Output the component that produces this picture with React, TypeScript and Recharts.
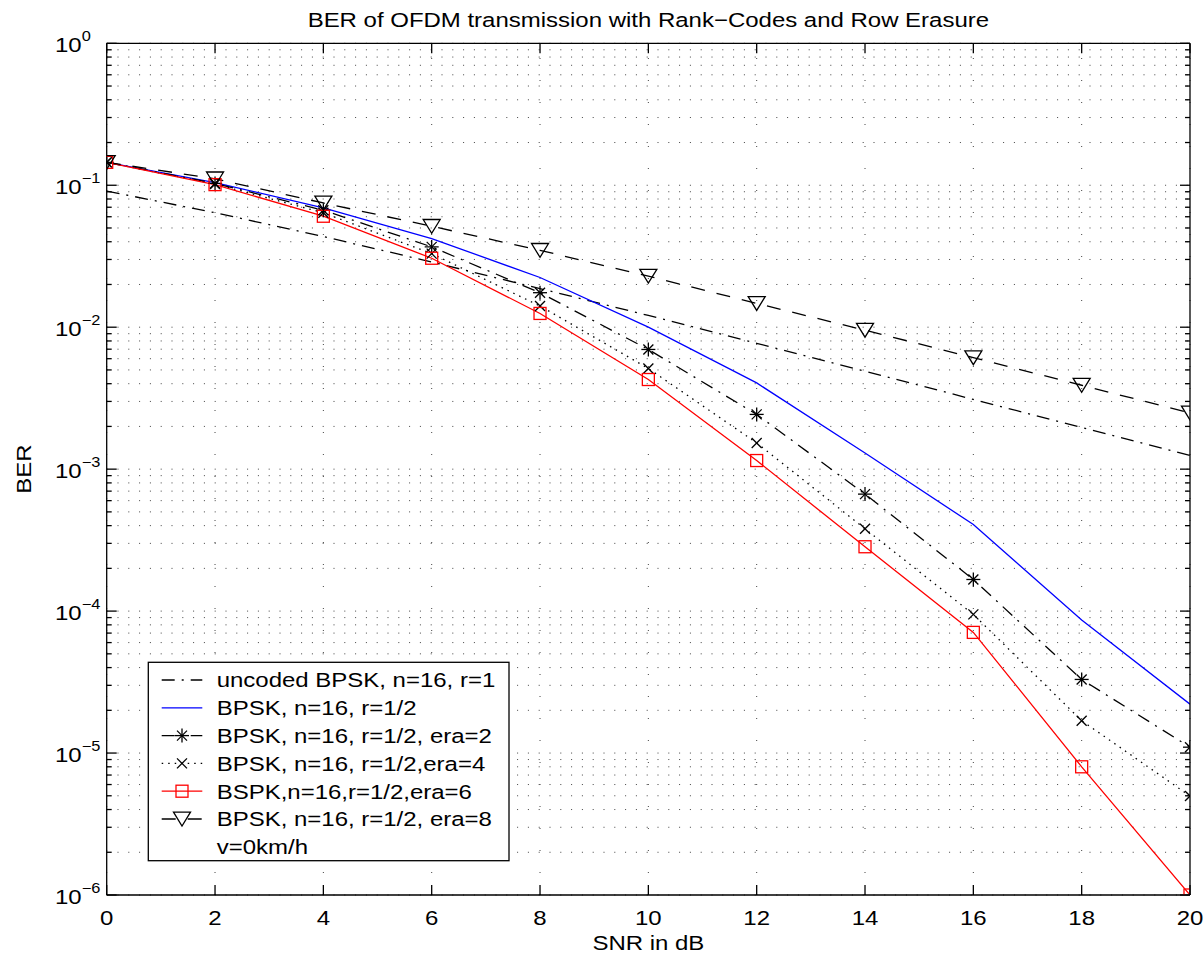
import React from "react";
import { LineChart, Line, XAxis, YAxis, ReferenceLine } from "recharts";

// SNR in dB
const snr = [0, 2, 4, 6, 8, 10, 12, 14, 16, 18, 20];

// BER curves
const uncoded = [0.091, 0.064, 0.0435, 0.0288, 0.0187, 0.0121, 0.0077, 0.0049, 0.0031, 0.00197, 0.00125];
const coded = [0.145, 0.1045, 0.0692, 0.0421, 0.0224, 0.01, 0.00405, 0.0013, 0.000407, 0.0000865, 0.0000221];
const era2 = [0.145, 0.103, 0.0667, 0.0368, 0.0175, 0.00697, 0.00243, 0.000667, 0.000167, 0.000033, 0.000011];
const era4 = [0.145, 0.102, 0.064, 0.033, 0.0141, 0.00512, 0.00153, 0.00038, 0.0000948, 0.0000169, 0.00000498];
const era6 = [0.145, 0.101, 0.0605, 0.0306, 0.0125, 0.00428, 0.00115, 0.000284, 0.0000708, 0.000008, 0.000001];
const era8 = [0.145, 0.111, 0.075, 0.0514, 0.0348, 0.0229, 0.0147, 0.00953, 0.0061, 0.0039, 0.00249];

const xTicks = [0, 2, 4, 6, 8, 10, 12, 14, 16, 18, 20];
const decades = [1e-6, 1e-5, 1e-4, 1e-3, 1e-2, 1e-1, 1];
const minorMult = [2, 3, 4, 5, 6, 7, 8, 9];

const legendLabels = [
  "uncoded BPSK, n=16, r=1",
  "BPSK, n=16, r=1/2",
  "BPSK, n=16, r=1/2, era=2",
  "BPSK, n=16, r=1/2,era=4",
  "BSPK,n=16,r=1/2,era=6",
  "BPSK, n=16, r=1/2, era=8",
  "v=0km/h",
];

const yTicks: number[] = [];
decades.forEach((d, i) => {
  yTicks.push(d);
  if (i < decades.length - 1) minorMult.forEach((m) => yTicks.push(+(d * m).toPrecision(3)));
});

const rows = snr.map((s, i) => ({
  snr: s,
  uncoded: uncoded[i],
  coded: coded[i],
  era2: era2[i],
  era4: era4[i],
  era6: era6[i],
  era8: era8[i],
}));

// body margin is zeroed below, so these are page pixels
const W = 1204;
const H = 967;
const LEFT = 106.7;
const TOP = 43.3;
const RIGHT_W = 14;
const BOTTOM_H = 72;
const PLOT_R = W - RIGHT_W;
const PLOT_B = H - BOTTOM_H;

const FONT = '"Liberation Sans", Arial, Helvetica, sans-serif';
const SX = 1.17; // the original's lettering is a bit wide
const FS = 20.5;
const LW = 1.3;

const DASHDOT = "13 7 2 7";
const DOTTED = "1.5 5";
const DASHED = "14 12";

function SText({ x, y, size = FS, anchor = "start", rotate, children }: any) {
  const t = `translate(${x},${y})${rotate ? ` rotate(${rotate})` : ""} scale(${SX},1)`;
  return (
    <text transform={t} fontSize={size} textAnchor={anchor} fontFamily={FONT} fill="#000">
      {children}
    </text>
  );
}

function Marker({ kind, cx, cy }: any) {
  if (cx == null || cy == null) return null;
  if (kind === "star") {
    return (
      <g stroke="#000" strokeWidth={LW}>
        <line x1={cx - 7} y1={cy} x2={cx + 7} y2={cy} />
        <line x1={cx} y1={cy - 7} x2={cx} y2={cy + 7} />
        <line x1={cx - 5} y1={cy - 5} x2={cx + 5} y2={cy + 5} />
        <line x1={cx - 5} y1={cy + 5} x2={cx + 5} y2={cy - 5} />
      </g>
    );
  }
  if (kind === "x") {
    return (
      <g stroke="#000" strokeWidth={LW}>
        <line x1={cx - 5} y1={cy - 5} x2={cx + 5} y2={cy + 5} />
        <line x1={cx - 5} y1={cy + 5} x2={cx + 5} y2={cy - 5} />
      </g>
    );
  }
  if (kind === "square") {
    return <rect x={cx - 6} y={cy - 6} width={12} height={12} fill="none" stroke="#ff0000" strokeWidth={LW} />;
  }
  if (kind === "tri") {
    return (
      <polygon
        points={`${cx - 8.5},${cy - 6.8} ${cx + 8.5},${cy - 6.8} ${cx},${cy + 7}`}
        fill="none"
        stroke="#000"
        strokeWidth={LW}
      />
    );
  }
  return null;
}

const dotOf = (kind: string) => (p: any) => <Marker key={`${kind}-${p.index}`} kind={kind} cx={p.cx} cy={p.cy} />;

function BottomTick({ x, y, payload }: any) {
  return (
    <g>
      <line x1={x} y1={y} x2={x} y2={y - 10} stroke="#000" strokeWidth={LW} />
      <SText x={x} y={y + 30} anchor="middle">{payload.value}</SText>
    </g>
  );
}

function TopTick({ x, y }: any) {
  return <line x1={x} y1={y} x2={x} y2={y + 10} stroke="#000" strokeWidth={LW} />;
}

const isDecade = (v: number) => Math.abs(Math.log10(v) - Math.round(Math.log10(v))) < 1e-6;

function LeftTick({ x, y, payload }: any) {
  const major = isDecade(payload.value);
  const e = Math.round(Math.log10(payload.value));
  return (
    <g>
      <line x1={x} y1={y} x2={x + (major ? 10 : 5)} y2={y} stroke="#000" strokeWidth={LW} />
      {major && (
        <>
          <SText x={x - 25} y={y + 9} anchor="end">10</SText>
          <SText x={x - 25} y={y - 2} size={14}>{e === 0 ? "0" : `\u2212${-e}`}</SText>
        </>
      )}
    </g>
  );
}

function RightTick({ x, y, payload }: any) {
  const major = isDecade(payload.value);
  return <line x1={x} y1={y} x2={x - (major ? 10 : 5)} y2={y} stroke="#000" strokeWidth={LW} />;
}

const legendItems = [
  { dash: DASHDOT, color: "#000", marker: "" },
  { dash: undefined, color: "#0000ff", marker: "" },
  { dash: DASHDOT, color: "#000", marker: "star" },
  { dash: DOTTED, color: "#000", marker: "x" },
  { dash: undefined, color: "#ff0000", marker: "square" },
  { dash: DASHED, color: "#000", marker: "tri" },
  null,
];

function Legend() {
  const bx = 148.3;
  const by = 662.3;
  const bw = 360.7;
  const bh = 198.4;
  const rowH = 27.8;
  return (
    <g>
      <rect x={bx} y={by} width={bw} height={bh} fill="#fff" stroke="#000" strokeWidth={LW} />
      {legendLabels.map((label, i) => {
        const cy = by + 17.7 + i * rowH;
        const it = legendItems[i];
        return (
          <g key={label}>
            {it && (
              <>
                <line x1={161.7} y1={cy} x2={202.3} y2={cy} stroke={it.color} strokeWidth={LW} strokeDasharray={it.dash} />
                <Marker kind={it.marker} cx={182} cy={cy} />
              </>
            )}
            <SText x={216.7} y={cy + 7.3}>{label}</SText>
          </g>
        );
      })}
    </g>
  );
}

export default function App() {
  return (
    <div style={{ position: "relative", width: W, height: H, background: "#fff", overflow: "hidden" }}>
      <style>{"html,body{margin:0;padding:0;overflow:hidden;}"}</style>
      <LineChart width={W} height={H} data={rows} margin={{ top: 0, right: 0, bottom: 0, left: 0 }}>
        <XAxis
          dataKey="snr"
          type="number"
          domain={[0, 20]}
          ticks={xTicks}
          interval={0}
          height={BOTTOM_H}
          tickSize={0}
          tickMargin={0}
          tickLine={false}
          axisLine={{ stroke: "#000", strokeWidth: LW }}
          tick={<BottomTick />}
          allowDataOverflow
        />
        <XAxis
          xAxisId="top"
          orientation="top"
          dataKey="snr"
          type="number"
          domain={[0, 20]}
          ticks={xTicks}
          interval={0}
          height={TOP}
          tickSize={0}
          tickMargin={0}
          tickLine={false}
          axisLine={{ stroke: "#000", strokeWidth: LW }}
          tick={<TopTick />}
          allowDataOverflow
        />
        <YAxis
          type="number"
          scale="log"
          domain={[1e-6, 1]}
          ticks={yTicks}
          interval={0}
          width={LEFT}
          tickSize={0}
          tickMargin={0}
          tickLine={false}
          axisLine={{ stroke: "#000", strokeWidth: LW }}
          tick={<LeftTick />}
          allowDataOverflow
        />
        <YAxis
          yAxisId="right"
          orientation="right"
          type="number"
          scale="log"
          domain={[1e-6, 1]}
          ticks={yTicks}
          interval={0}
          width={RIGHT_W}
          tickSize={0}
          tickMargin={0}
          tickLine={false}
          axisLine={{ stroke: "#000", strokeWidth: LW }}
          tick={<RightTick />}
          allowDataOverflow
        />
        {yTicks.map((v) => (
          <ReferenceLine key={`gy${v}`} y={v} stroke="#444" strokeWidth={1} strokeDasharray="1 9.8" />
        ))}
        {xTicks.map((v) => (
          <ReferenceLine key={`gx${v}`} x={v} stroke="#444" strokeWidth={1} strokeDasharray="1 21" />
        ))}
        <Line dataKey="uncoded" stroke="#000" strokeWidth={LW} strokeDasharray={DASHDOT} dot={false} activeDot={false} isAnimationActive={false} />
        <Line dataKey="coded" stroke="#0000ff" strokeWidth={LW} dot={false} activeDot={false} isAnimationActive={false} />
        <Line dataKey="era2" stroke="#000" strokeWidth={LW} strokeDasharray={DASHDOT} dot={dotOf("star")} activeDot={false} isAnimationActive={false} />
        <Line dataKey="era4" stroke="#000" strokeWidth={LW} strokeDasharray={DOTTED} dot={dotOf("x")} activeDot={false} isAnimationActive={false} />
        <Line dataKey="era6" stroke="#ff0000" strokeWidth={LW} dot={dotOf("square")} activeDot={false} isAnimationActive={false} />
        <Line dataKey="era8" stroke="#000" strokeWidth={LW} strokeDasharray={DASHED} dot={dotOf("tri")} activeDot={false} isAnimationActive={false} />
      </LineChart>
      <svg width={W} height={H} style={{ position: "absolute", left: 0, top: 0, pointerEvents: "none" }}>
        <SText x={(LEFT + PLOT_R) / 2} y={27} anchor="middle">
          BER of OFDM transmission with Rank{"\u2212"}Codes and Row Erasure
        </SText>
        <SText x={(LEFT + PLOT_R) / 2} y={950} anchor="middle">SNR in dB</SText>
        <SText x={31.3} y={(TOP + PLOT_B) / 2} anchor="middle" rotate={-90}>BER</SText>
        <Legend />
      </svg>
    </div>
  );
}
